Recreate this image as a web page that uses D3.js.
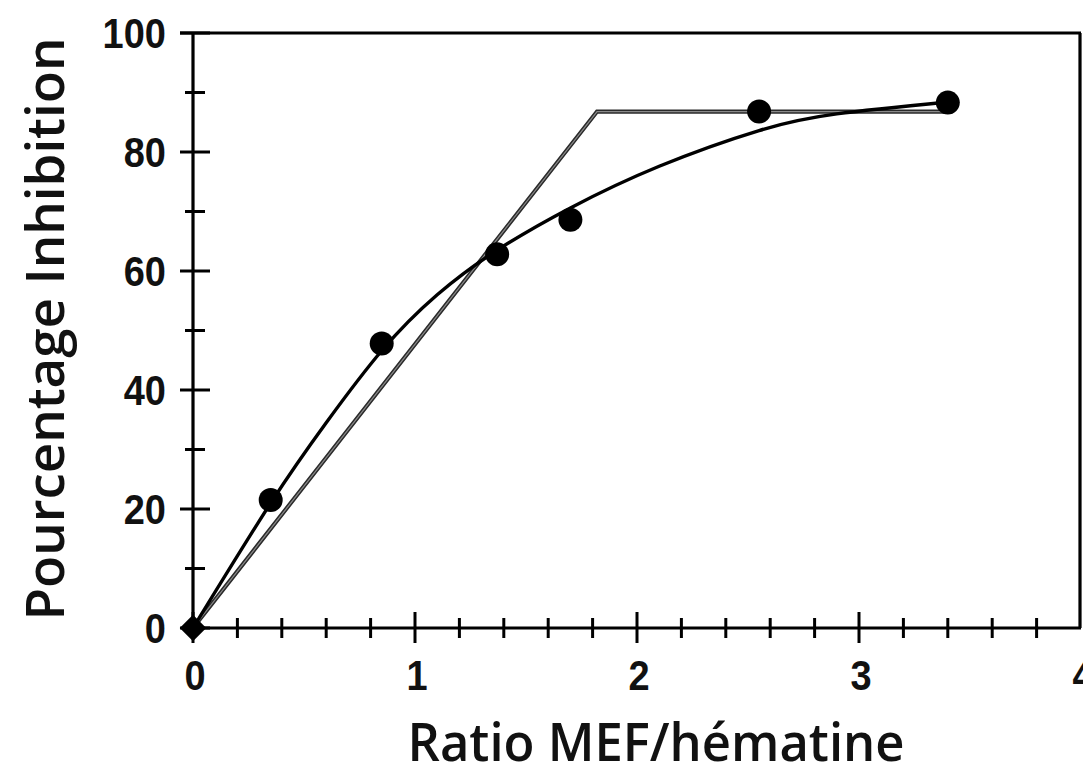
<!DOCTYPE html>
<html>
<head>
<meta charset="utf-8">
<script src="https://cdn.jsdelivr.net/npm/d3@7"></script>
<style>
  html, body { margin: 0; padding: 0; background: #fff; }
  svg { display: block; }
</style>
</head>
<body>
<svg id="chart" width="1083" height="774"></svg>
<script>
// ---- data ----
const xTickValues = [0, 1, 2, 3, 4];
const yTickValues = [0, 20, 40, 60, 80, 100];
const xLabel = "Ratio MEF/hématine";
const yLabel = "Pourcentage Inhibition";

// measured points
const ratio      = [0, 0.35, 0.85, 1.37, 1.70, 2.55, 3.40];
const inhibition = [0, 21.5, 47.8, 62.8, 68.6, 86.8, 88.3];

// smooth fitted curve
const fitX = [0, 0.35, 0.60, 0.85, 1.10, 1.37, 1.70, 2.10, 2.55, 2.90, 3.40];
const fitY = [0, 21.0, 34.5, 46.6, 56.0, 63.5, 70.6, 77.6, 83.6, 86.4, 88.4];

// two-segment (broken line) model
const brokenX = [0, 1.82, 3.42];
const brokenY = [0, 86.8, 86.8];

// ---- layout ----
const svg = d3.select("#chart");
const x = d3.scaleLinear().domain([0, 4]).range([193, 1081]);
const y = d3.scaleLinear().domain([0, 100]).range([628, 33]);

const g = svg.append("g");

// frame: top and right borders
g.append("line").attr("x1", 180).attr("x2", x(4)).attr("y1", y(100)).attr("y2", y(100))
  .attr("stroke", "#000").attr("stroke-width", 3.2);
g.append("line").attr("x1", x(4) - 1).attr("x2", x(4) - 1).attr("y1", y(100)).attr("y2", y(0))
  .attr("stroke", "#000").attr("stroke-width", 3.2);

// y axis line
g.append("line").attr("x1", x(0)).attr("x2", x(0)).attr("y1", y(100)).attr("y2", y(0))
  .attr("stroke", "#000").attr("stroke-width", 3.2);
// x axis line
g.append("line").attr("x1", x(0)).attr("x2", x(4)).attr("y1", y(0)).attr("y2", y(0))
  .attr("stroke", "#000").attr("stroke-width", 3.2);

// y ticks: major (crossing) and minor
const yMinor = y.ticks(10).filter(v => v % 20 !== 0);
g.selectAll(".ymaj").data(yTickValues).enter().append("line")
  .attr("x1", x(0) - 13).attr("x2", x(0) + 17)
  .attr("y1", d => y(d)).attr("y2", d => y(d))
  .attr("stroke", "#000").attr("stroke-width", 3);
g.selectAll(".ymin").data(yMinor).enter().append("line")
  .attr("x1", x(0) - 8).attr("x2", x(0) + 12)
  .attr("y1", d => y(d)).attr("y2", d => y(d))
  .attr("stroke", "#000").attr("stroke-width", 3);

// x ticks: major and minor (every 0.2)
const xMinor = x.ticks(20).filter(v => Math.abs(v - Math.round(v)) > 1e-6);
g.selectAll(".xmaj").data(xTickValues.filter(v => v < 4)).enter().append("line")
  .attr("x1", d => x(d)).attr("x2", d => x(d))
  .attr("y1", y(0) - 16).attr("y2", y(0) + 15)
  .attr("stroke", "#000").attr("stroke-width", 3);
g.selectAll(".xmin").data(xMinor).enter().append("line")
  .attr("x1", d => x(d)).attr("x2", d => x(d))
  .attr("y1", y(0) - 10).attr("y2", y(0) + 10)
  .attr("stroke", "#000").attr("stroke-width", 3);

// tick labels
const tickFont = "'Liberation Sans', Arial, sans-serif";
g.selectAll(".ylab").data(yTickValues).enter().append("text")
  .attr("transform", d => `translate(166, ${y(d) + 15}) scale(1, 1.12)`)
  .attr("text-anchor", "end")
  .attr("font-family", tickFont).attr("font-weight", "bold").attr("font-size", 38)
  .attr("fill", "#111")
  .text(d => d);
g.selectAll(".xlab").data(xTickValues).enter().append("text")
  .attr("transform", d => `translate(${x(d) + 2}, 690) scale(1, 1.12)`)
  .attr("text-anchor", "middle")
  .attr("font-family", tickFont).attr("font-weight", "bold").attr("font-size", 38)
  .attr("fill", "#111")
  .text(d => d);

// axis titles
const titleFont = "'Open Sans', 'Noto Sans', sans-serif";
g.append("text")
  .attr("x", 656).attr("y", 761)
  .attr("text-anchor", "middle")
  .attr("font-family", titleFont).attr("font-weight", 600).attr("font-size", 52)
  .attr("textLength", 497).attr("lengthAdjust", "spacingAndGlyphs")
  .attr("fill", "#111")
  .text(xLabel);
g.append("text")
  .attr("transform", "translate(64, 329) rotate(-90)")
  .attr("text-anchor", "middle")
  .attr("font-family", titleFont).attr("font-weight", 600).attr("font-size", 52)
  .attr("textLength", 583).attr("lengthAdjust", "spacingAndGlyphs")
  .attr("fill", "#111")
  .text(yLabel);

// broken line model (gray, double-edged look)
const brokenPts = brokenX.map((v, i) => [v, brokenY[i]]);
const lineLin = d3.line().x(d => x(d[0])).y(d => y(d[1])).curve(d3.curveLinear);
g.append("path").attr("d", lineLin(brokenPts))
  .attr("fill", "none").attr("stroke", "#2a2a2a").attr("stroke-width", 4.2)
  .attr("stroke-linejoin", "miter");
g.append("path").attr("d", lineLin(brokenPts))
  .attr("fill", "none").attr("stroke", "#8a8a8a").attr("stroke-width", 1.2)
  .attr("stroke-linejoin", "miter");

// smooth fitted curve
const fitPts = fitX.map((v, i) => [v, fitY[i]]);
const lineSmooth = d3.line().x(d => x(d[0])).y(d => y(d[1])).curve(d3.curveNatural);
g.append("path").attr("d", lineSmooth(fitPts))
  .attr("fill", "none").attr("stroke", "#000").attr("stroke-width", 3.4);

// data points
const pts = ratio.map((v, i) => [v, inhibition[i]]);
g.selectAll(".pt").data(pts.filter(d => d[0] > 0)).enter().append("circle")
  .attr("cx", d => x(d[0])).attr("cy", d => y(d[1])).attr("r", 12)
  .attr("fill", "#000");
// origin marker (diamond)
g.selectAll(".pt0").data(pts.filter(d => d[0] === 0)).enter().append("path")
  .attr("d", d3.symbol().type(d3.symbolSquare).size(350)())
  .attr("transform", d => `translate(${x(d[0])}, ${y(d[1])}) rotate(45)`)
  .attr("fill", "#000");
</script>
</body>
</html>
